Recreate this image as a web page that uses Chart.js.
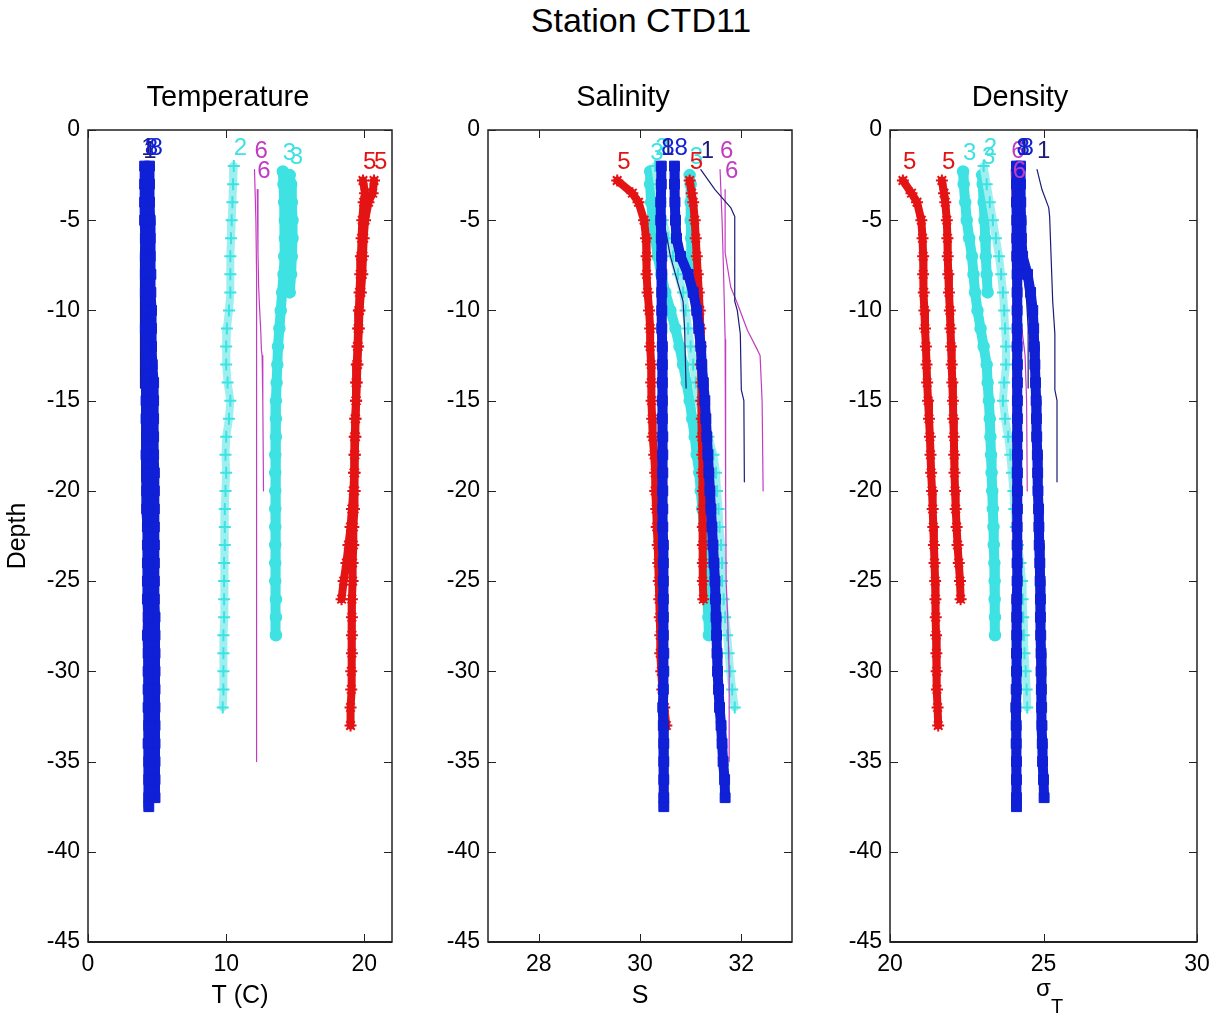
<!DOCTYPE html>
<html>
<head>
<meta charset="utf-8">
<title>Station CTD11</title>
<script src="https://cdn.jsdelivr.net/npm/chart.js@4.4.1/dist/chart.umd.min.js"></script>
<style>
  body { margin: 0; background: #fff; }
  #wrap { position: relative; width: 1219px; height: 1018px; font-family: "Liberation Sans", Arial, sans-serif; }
  #wrap canvas { position: absolute; top: 0; }
  #title { position: absolute; top: 3px; left: 641px; transform: translateX(-50%); font-size: 34px; line-height: 34px; white-space: nowrap; }
</style>
</head>
<body>
<div id="wrap">
  <div id="title">Station CTD11</div>
  <canvas id="cT" width="400" height="1018" style="left:0"></canvas>
  <canvas id="cS" width="400" height="1018" style="left:400px"></canvas>
  <canvas id="cD" width="419" height="1018" style="left:800px"></canvas>
</div>
<script>
// tick labels
const depthTicks = [0, -5, -10, -15, -20, -25, -30, -35, -40, -45];
const tempTicks = [0, 10, 20];
const salTicks = [28, 30, 32];
const sigTicks = [20, 25, 30];

// cast 8 (blue squares), two profiles
const depth8a = [-2,-3,-4,-5,-6,-7,-8,-9,-10,-11,-12,-13,-14,-15,-16,-17,-18,-19,-20,-21,-22,-23,-24,-25,-26,-27,-28,-29,-30,-31,-32,-33,-34,-35,-36,-37,-37.5];
const temp8a = [4.1,4.1,4.1,4.1,4.15,4.15,4.15,4.15,4.2,4.15,4.2,4.2,4.2,4.2,4.2,4.25,4.2,4.25,4.25,4.25,4.3,4.3,4.3,4.3,4.3,4.35,4.3,4.35,4.35,4.35,4.35,4.4,4.35,4.4,4.4,4.4,4.4];
const sal8a = [30.42,30.42,30.41,30.41,30.42,30.43,30.43,30.43,30.43,30.43,30.44,30.44,30.44,30.44,30.44,30.45,30.45,30.45,30.45,30.45,30.45,30.46,30.46,30.46,30.46,30.46,30.46,30.47,30.47,30.46,30.45,30.46,30.47,30.47,30.47,30.47,30.47];
const sig8a = [24.12,24.12,24.12,24.13,24.13,24.13,24.14,24.14,24.14,24.14,24.14,24.15,24.15,24.15,24.15,24.15,24.15,24.15,24.15,24.15,24.14,24.14,24.14,24.14,24.13,24.13,24.13,24.12,24.12,24.11,24.1,24.11,24.11,24.12,24.12,24.12,24.12];

const depth8b = [-2,-3,-4,-5,-6,-7,-8,-9,-10,-11,-12,-13,-14,-15,-16,-17,-18,-19,-20,-21,-22,-23,-24,-25,-26,-27,-28,-29,-30,-31,-32,-33,-34,-35,-36,-37];
const temp8b = [4.45,4.45,4.45,4.5,4.5,4.5,4.55,4.55,4.6,4.6,4.6,4.65,4.75,4.75,4.75,4.75,4.75,4.8,4.8,4.8,4.8,4.8,4.8,4.8,4.8,4.85,4.85,4.85,4.85,4.85,4.85,4.85,4.85,4.85,4.85,4.85];
const sal8b = [30.68,30.68,30.69,30.7,30.72,30.8,30.95,31.05,31.12,31.16,31.2,31.22,31.25,31.28,31.3,31.32,31.34,31.36,31.38,31.4,31.42,31.44,31.46,31.48,31.49,31.5,31.51,31.52,31.53,31.55,31.57,31.6,31.62,31.64,31.67,31.68];
const sig8b = [24.25,24.25,24.26,24.27,24.28,24.32,24.48,24.58,24.65,24.68,24.7,24.72,24.74,24.76,24.77,24.78,24.8,24.81,24.82,24.84,24.85,24.86,24.88,24.89,24.9,24.9,24.91,24.92,24.92,24.93,24.94,24.95,24.96,24.97,25.0,25.02];

// cast 1 (thin navy lines)
const depth1a = [-2.2,-3.3,-4.3,-4.8,-9.5,-10,-11.3,-14.4,-15,-19.5];
const temp1a = [4.0,3.95,3.9,3.9,3.9,3.9,3.88,3.88,3.88,3.88];
const sal1a = [31.2,31.48,31.79,31.87,31.87,31.92,31.98,32.0,32.05,32.06];
const sig1a = [24.79,24.95,25.17,25.2,25.3,25.32,25.37,25.37,25.44,25.44];

const depth1b = [-2,-5.5,-7,-9.5,-11,-14.3];
const temp1b = [3.85,3.85,3.8,3.8,3.8,3.8];
const sal1b = [30.42,30.5,30.6,30.85,30.88,30.91];
const sig1b = [24.15,24.2,24.3,24.45,24.5,24.5];

// cast 6 (thin magenta lines)
const depth6a = [-2.2,-5,-8,-11.6,-12,-20,-25,-27,-30,-35];
const temp6a = [12.05,12.15,12.2,12.2,12.2,12.2,12.2,12.2,12.2,12.2];
const sal6a = [31.58,31.62,31.65,31.68,31.69,31.69,31.7,31.73,31.76,31.76];
const sig6a = [23.95,24.0,24.02,24.05,24.05,24.06,24.07,24.08,24.08,24.1];

const depth6b = [-3.3,-6.8,-8.7,-9.6,-11.1,-12.2,-12.5,-15,-20];
const temp6b = [12.25,12.3,12.35,12.4,12.5,12.55,12.6,12.65,12.7];
const sal6b = [31.68,31.68,31.79,31.92,32.12,32.32,32.37,32.41,32.43];
const sig6b = [24.0,24.02,24.05,24.1,24.3,24.38,24.4,24.45,24.47];

// cast 5 (red stars)
const depth5a = [-2.8,-3.5,-4,-5,-6,-7,-8,-9,-10,-11,-12,-13,-14,-15,-16,-17,-18,-19,-20,-21,-22,-23,-24,-25,-26,-27,-28,-29,-30,-31,-32,-33];
const temp5a = [19.9,20.05,19.95,19.85,19.8,19.75,19.7,19.65,19.6,19.55,19.5,19.45,19.4,19.4,19.35,19.35,19.3,19.3,19.3,19.25,19.2,19.2,19.15,19.15,19.1,19.1,19.1,19.1,19.05,19.05,19.0,19.0];
const sal5a = [29.55,29.85,29.97,30.08,30.12,30.13,30.13,30.15,30.18,30.2,30.2,30.22,30.22,30.23,30.24,30.25,30.28,30.3,30.3,30.32,30.33,30.35,30.36,30.37,30.38,30.39,30.4,30.4,30.42,30.44,30.48,30.52];
const sig5a = [20.42,20.7,20.88,21.02,21.06,21.08,21.08,21.1,21.12,21.14,21.17,21.19,21.21,21.24,21.27,21.3,21.32,21.34,21.37,21.39,21.41,21.43,21.45,21.47,21.48,21.49,21.5,21.51,21.52,21.53,21.55,21.57];

const depth5b = [-2.8,-3.5,-4,-5,-6,-7,-8,-9,-10,-11,-12,-13,-14,-15,-16,-17,-18,-19,-20,-21,-22,-23,-24,-25,-26];
const temp5b = [20.7,20.6,20.3,20.05,19.95,19.9,19.85,19.75,19.65,19.6,19.55,19.5,19.45,19.4,19.35,19.3,19.3,19.25,19.2,19.1,19.0,18.85,18.7,18.5,18.35];
const sal5b = [30.98,31.02,31.05,31.08,31.1,31.12,31.14,31.16,31.18,31.19,31.2,31.2,31.21,31.21,31.22,31.22,31.23,31.23,31.24,31.24,31.24,31.24,31.24,31.24,31.25];
const sig5b = [21.69,21.76,21.8,21.85,21.87,21.88,21.9,21.92,21.95,21.97,21.99,22.01,22.03,22.05,22.06,22.08,22.09,22.1,22.12,22.14,22.17,22.2,22.24,22.28,22.3];

// cast 2 (cyan plus)
const depth2 = [-2,-3,-4,-5,-6,-7,-8,-9,-10,-11,-12,-13,-14,-15,-16,-17,-18,-19,-20,-21,-22,-23,-24,-25,-26,-27,-28,-29,-30,-31,-32];
const temp2 = [10.55,10.5,10.45,10.4,10.35,10.3,10.3,10.3,10.2,10.05,10.0,10.0,10.1,10.3,10.2,10.0,9.95,10.0,9.95,9.9,9.9,9.9,9.85,9.85,9.85,9.85,9.8,9.8,9.8,9.8,9.75];
const sal2 = [30.3,30.35,30.4,30.45,30.55,30.65,30.75,30.85,30.9,30.95,31.0,31.05,31.1,31.15,31.25,31.35,31.45,31.5,31.52,31.55,31.57,31.6,31.62,31.62,31.65,31.68,31.72,31.75,31.78,31.82,31.87];
const sig2 = [23.05,23.15,23.25,23.35,23.45,23.55,23.62,23.68,23.72,23.75,23.78,23.78,23.72,23.68,23.75,23.85,23.92,23.97,24.02,24.05,24.1,24.17,24.25,24.3,24.32,24.34,24.36,24.38,24.42,24.45,24.47];

// cast 3 (cyan circles)
const depth3a = [-2.3,-3,-4,-5,-6,-7,-8,-9,-10,-11,-12,-13,-14,-15,-16,-17,-18,-19,-20,-21,-22,-23,-24,-25,-26,-27,-28];
const temp3a = [14.1,14.15,14.2,14.25,14.25,14.2,14.15,14.05,13.95,13.85,13.75,13.7,13.65,13.6,13.6,13.6,13.55,13.55,13.55,13.55,13.55,13.55,13.55,13.55,13.6,13.6,13.6];
const sal3a = [30.2,30.2,30.22,30.25,30.3,30.35,30.42,30.5,30.6,30.7,30.78,30.85,30.92,30.98,31.03,31.08,31.12,31.17,31.2,31.23,31.26,31.28,31.3,31.32,31.33,31.35,31.36];
const sig3a = [22.38,22.4,22.45,22.5,22.58,22.67,22.72,22.77,22.85,22.95,23.05,23.15,23.18,23.22,23.25,23.27,23.29,23.31,23.33,23.35,23.37,23.38,23.4,23.41,23.41,23.42,23.42];

const depth3b = [-2.5,-3,-4,-5,-6,-7,-8,-9];
const temp3b = [14.6,14.7,14.75,14.8,14.8,14.75,14.7,14.6];
const sal3b = [30.98,31.0,31.0,31.0,31.01,31.01,31.02,31.02];
const sig3b = [23.0,23.02,23.05,23.08,23.1,23.12,23.15,23.18];

const BLUE = '#1020d6';
const NAVY = '#1c1c78';
const MAGENTA = '#c23cc2';
const RED = '#e41414';
const CYAN = '#3fe2e2';

// first in list is drawn on top
const profiles = [
  { tag: '8', kind: 'square', depth: depth8a, T: temp8a, S: sal8a, D: sig8a },
  { tag: '8', kind: 'square', depth: depth8b, T: temp8b, S: sal8b, D: sig8b },
  { tag: '1', kind: 'navy', depth: depth1a, T: temp1a, S: sal1a, D: sig1a },
  { tag: '1', kind: 'navy', depth: depth1b, T: temp1b, S: sal1b, D: sig1b },
  { tag: '6', kind: 'magenta', depth: depth6a, T: temp6a, S: sal6a, D: sig6a },
  { tag: '6', kind: 'magenta', depth: depth6b, T: temp6b, S: sal6b, D: sig6b },
  { tag: '5', kind: 'star', depth: depth5a, T: temp5a, S: sal5a, D: sig5a },
  { tag: '5', kind: 'star', depth: depth5b, T: temp5b, S: sal5b, D: sig5b },
  { tag: '2', kind: 'plus', depth: depth2, T: temp2, S: sal2, D: sig2 },
  { tag: '3', kind: 'circle', depth: depth3a, T: temp3a, S: sal3a, D: sig3a },
  { tag: '3', kind: 'circle', depth: depth3b, T: temp3b, S: sal3b, D: sig3b }
];

const styles = {
  square: { color: BLUE, opts: { borderWidth: 10, pointStyle: 'rect', pointRadius: 7, pointBorderWidth: 1 } },
  star: { color: RED, opts: { borderWidth: 8, pointStyle: 'star', pointRadius: 6, pointBorderWidth: 2 } },
  circle: { color: CYAN, opts: { borderWidth: 10, pointStyle: 'circle', pointRadius: 5.5, pointBorderWidth: 1.5 } },
  plus: { color: CYAN, opts: { borderColor: '#9ef0f0', borderWidth: 8, pointStyle: 'cross', pointRadius: 6, pointBorderWidth: 2 } },
  navy: { color: NAVY, opts: { borderWidth: 1.2, pointRadius: 0 } },
  magenta: { color: MAGENTA, opts: { borderWidth: 1.2, pointRadius: 0 } }
};

const FONT = '"Liberation Sans", Arial, Helvetica, sans-serif';
Chart.defaults.font.family = FONT;
Chart.defaults.color = '#000';

// box with inward ticks on all four sides
const framePlugin = {
  id: 'frame',
  afterDraw(chart) {
    const { ctx, chartArea: a, scales: { x, y } } = chart;
    ctx.save();
    ctx.strokeStyle = '#222';
    ctx.lineWidth = 1.5;
    ctx.strokeRect(a.left, a.top, a.right - a.left, a.bottom - a.top);
    ctx.beginPath();
    x.ticks.forEach(t => {
      const px = Math.round(x.getPixelForValue(t.value)) + 0.5;
      ctx.moveTo(px, a.bottom); ctx.lineTo(px, a.bottom - 8);
      ctx.moveTo(px, a.top); ctx.lineTo(px, a.top + 8);
    });
    y.ticks.forEach(t => {
      const py = Math.round(y.getPixelForValue(t.value)) + 0.5;
      ctx.moveTo(a.left, py); ctx.lineTo(a.left + 8, py);
      ctx.moveTo(a.right, py); ctx.lineTo(a.right - 8, py);
    });
    ctx.lineWidth = 1;
    ctx.stroke();
    ctx.lineWidth = 2;
    ctx.beginPath();
    ctx.moveTo(a.left, a.bottom); ctx.lineTo(a.right, a.bottom);
    ctx.stroke();
    ctx.restore();
  }
};

// cast number written above the first point of each profile
const tagPlugin = {
  id: 'tags',
  afterDatasetsDraw(chart) {
    const { ctx, scales: { x, y } } = chart;
    ctx.save();
    ctx.font = '24px ' + FONT;
    ctx.textAlign = 'left';
    ctx.textBaseline = 'middle';
    chart.data.datasets.slice().reverse().forEach(ds => {
      const p0 = ds.data[0];
      ctx.fillStyle = ds.tagColor;
      ctx.fillText(ds.tag, x.getPixelForValue(p0.x), y.getPixelForValue(p0.y + 1));
    });
    ctx.restore();
  }
};

const panelTitle = {
  id: 'panelTitle',
  afterDraw(chart, args, opts) {
    const ctx = chart.ctx;
    ctx.save();
    ctx.font = '29px ' + FONT;
    ctx.fillStyle = '#000';
    ctx.textAlign = 'center';
    ctx.textBaseline = 'middle';
    ctx.fillText(opts.text, opts.x, 98);
    ctx.restore();
  }
};

// subscript T after the sigma axis title
const subT = {
  id: 'subT',
  afterDraw(chart, args, opts) {
    if (!opts || !opts.text) return;
    const xs = chart.scales.x;
    const ctx = chart.ctx;
    ctx.save();
    ctx.font = '24px ' + FONT;
    const w = ctx.measureText('σ').width;
    ctx.font = '20px ' + FONT;
    ctx.fillStyle = '#000';
    ctx.textAlign = 'left';
    ctx.textBaseline = 'alphabetic';
    ctx.fillText(opts.text, (xs.left + xs.right) / 2 + w / 2, chart.height - 5);
    ctx.restore();
  }
};

function makePanel(id, key, cfg) {
  const datasets = profiles.map(p => {
    const st = styles[p.kind];
    return Object.assign({
      data: p.depth.map((d, i) => ({ x: p[key][i], y: d })),
      tag: p.tag,
      tagColor: st.color,
      showLine: true,
      tension: 0,
      borderColor: st.color,
      pointBorderColor: st.color,
      pointBackgroundColor: st.color,
      borderCapStyle: 'round',
      borderJoinStyle: 'round'
    }, st.opts);
  });

  return new Chart(document.getElementById(id), {
    type: 'scatter',
    data: { datasets },
    options: {
      responsive: false,
      animation: false,
      events: [],
      layout: { padding: { top: 130, right: cfg.padRight, left: 0, bottom: 0 } },
      plugins: {
        legend: { display: false },
        tooltip: { enabled: false },
        panelTitle: { text: cfg.title, x: cfg.titleX },
        subT: cfg.sub ? { text: cfg.sub } : false
      },
      scales: {
        x: {
          type: 'linear', min: cfg.min, max: cfg.max,
          grid: { display: false, drawTicks: false },
          border: { display: false },
          ticks: { padding: 9, font: { size: 23 } },
          afterBuildTicks: s => { s.ticks = cfg.ticks.map(v => ({ value: v })); },
          afterFit: s => { s.height = 76; },
          title: { display: true, text: cfg.label, font: { size: cfg.labelSize }, padding: { top: 0, bottom: cfg.labelPad } }
        },
        y: {
          type: 'linear', min: -45, max: 0,
          grid: { display: false, drawTicks: false },
          border: { display: false },
          ticks: { padding: 8, font: { size: 23 } },
          afterBuildTicks: s => { s.ticks = depthTicks.map(v => ({ value: v })); },
          afterFit: s => { s.width = cfg.yWidth; },
          title: { display: cfg.depthTitle, text: 'Depth', font: { size: 25 }, padding: { top: 3, bottom: 0 } }
        }
      }
    },
    plugins: [framePlugin, tagPlugin, panelTitle, subT]
  });
}

makePanel('cT', 'T', { min: 0, max: 22, ticks: tempTicks, label: 'T (C)', labelSize: 25, labelPad: 7,
  title: 'Temperature', titleX: 228, padRight: 7, yWidth: 88, depthTitle: true });
makePanel('cS', 'S', { min: 27, max: 33, ticks: salTicks, label: 'S', labelSize: 25, labelPad: 7,
  title: 'Salinity', titleX: 223, padRight: 5, yWidth: 88, depthTitle: false });
makePanel('cD', 'D', { min: 20, max: 30, ticks: sigTicks, label: 'σ', labelSize: 24, labelPad: 14, sub: 'T',
  title: 'Density', titleX: 220, padRight: 22, yWidth: 90, depthTitle: false });
</script>
</body>
</html>
